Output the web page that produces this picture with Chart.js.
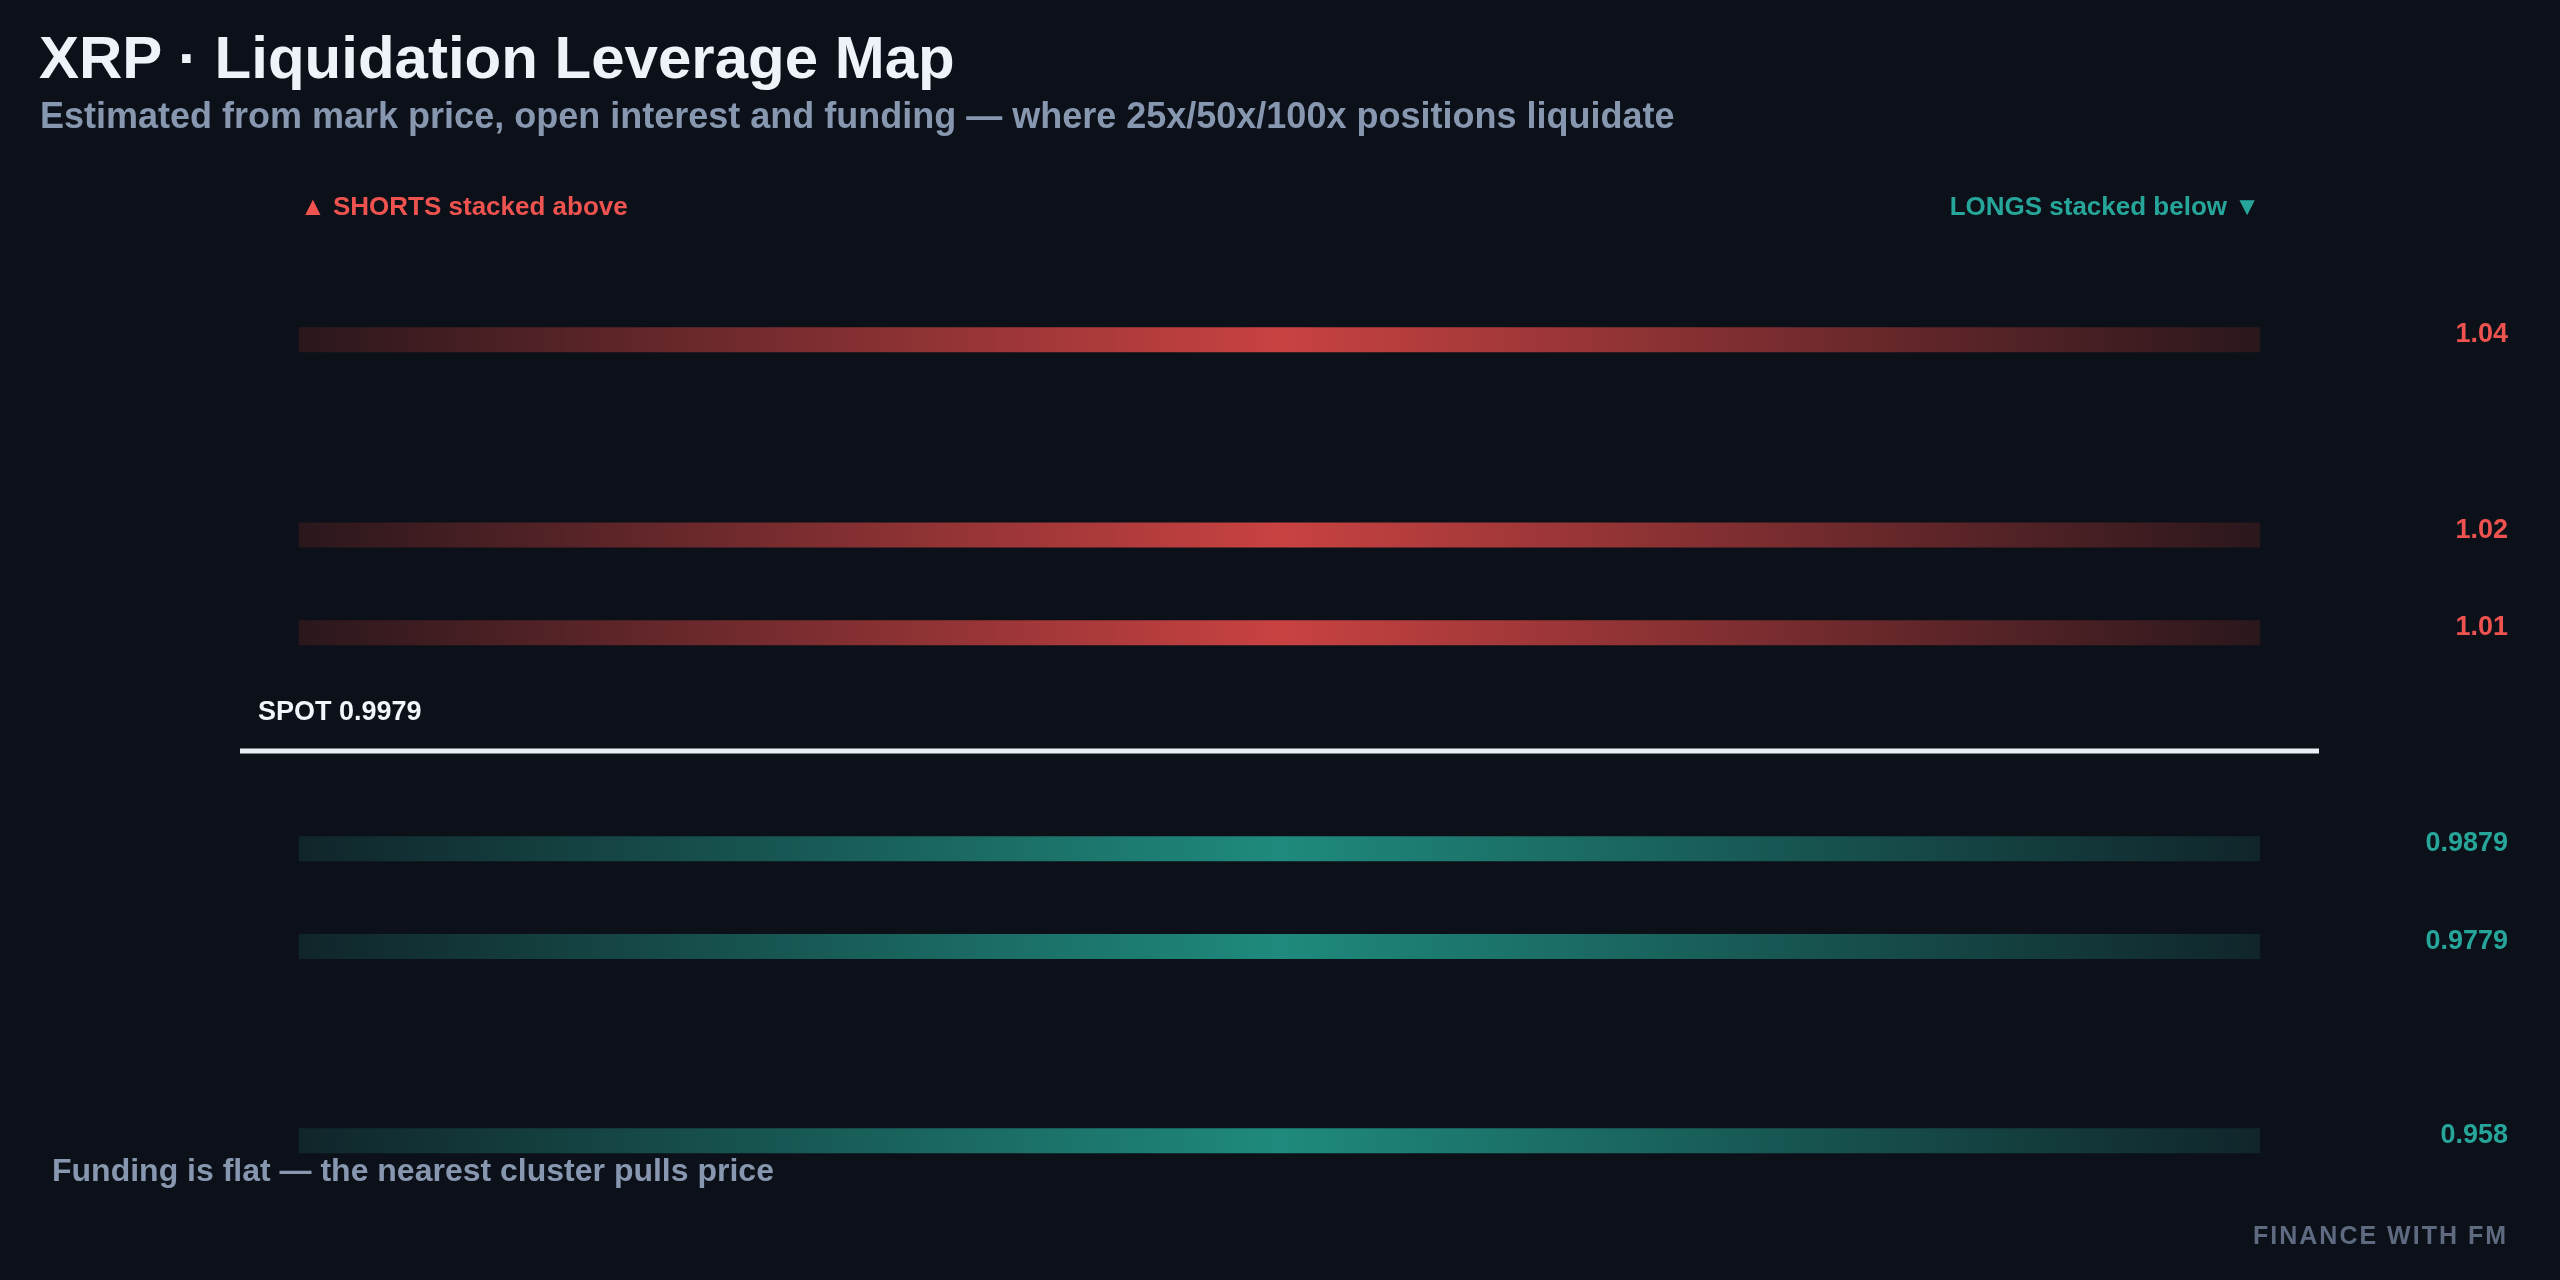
<!DOCTYPE html>
<html><head><meta charset="utf-8">
<script src="https://cdn.jsdelivr.net/npm/chart.js@4"></script>
<style>
html,body{margin:0;padding:0;background:#0c1018;width:2560px;height:1280px;overflow:hidden;font-family:"Liberation Sans",Arial,sans-serif;}
#wrap{position:absolute;left:0;top:0;width:2560px;height:1280px;}
.t{position:absolute;white-space:nowrap;font-weight:bold;}
</style></head><body>
<div id="wrap"><canvas id="c" width="2560" height="1280"></canvas></div>
<div class="t" style="left:39px;top:23px;font-size:60px;color:#eef3fa;">XRP · Liquidation Leverage Map</div>
<div class="t" style="left:40px;top:95px;font-size:36px;color:#8797b0;">Estimated from mark price, open interest and funding — where 25x/50x/100x positions liquidate</div>
<div class="t" style="left:300px;top:191px;font-size:26px;color:#ef5350;">▲ SHORTS stacked above</div>
<div class="t" style="right:300px;top:191px;font-size:26px;color:#26a69a;">LONGS stacked below ▼</div>
<div class="t" style="left:52px;top:1152px;font-size:32px;color:#8797b0;">Funding is flat — the nearest cluster pulls price</div>
<div class="t" style="right:52px;top:1221px;font-size:25px;color:#5d6a80;letter-spacing:2px;">FINANCE WITH FM</div>
<script>
const shortLevels = [1.04, 1.02, 1.01];
const longLevels = [0.9879, 0.9779, 0.958];
const spotPrice = 0.9979;
const shortLabels = ["1.04", "1.02", "1.01"];
const longLabels = ["0.9879", "0.9779", "0.958"];

function grad(ctx, chart, mid, end){
  const a = chart.chartArea; if(!a) return mid;
  const xs = chart.scales.x;
  const x0 = xs.getPixelForValue(0), x1 = xs.getPixelForValue(100);
  const g = ctx.createLinearGradient(x0,0,x1,0);
  g.addColorStop(0,end); g.addColorStop(0.5,mid); g.addColorStop(1,end);
  return g;
}
const datasets = [];
shortLevels.forEach((v,i)=>datasets.push({label:shortLabels[i],data:[{x:0,y:v},{x:100,y:v}],
  borderWidth:25,pointRadius:0,borderCapStyle:'butt',kind:'short',
  borderColor:c=>grad(c.chart.ctx,c.chart,'#c94242','#2a171c')}));
longLevels.forEach((v,i)=>datasets.push({label:longLabels[i],data:[{x:0,y:v},{x:100,y:v}],
  borderWidth:25,pointRadius:0,borderCapStyle:'butt',kind:'long',
  borderColor:c=>grad(c.chart.ctx,c.chart,'#1f8a7d','#10252a')}));
datasets.push({label:'SPOT',data:[{x:-3,y:spotPrice},{x:103,y:spotPrice}],borderWidth:5,pointRadius:0,borderColor:'#e9edf4',kind:'spot'});

const labelPlugin={id:'lbl',afterDatasetsDraw(chart){
  const ctx=chart.ctx, ys=chart.scales.y, xs=chart.scales.x;
  ctx.save();
  ctx.font='bold 27px "Liberation Sans", Arial, sans-serif';
  ctx.textBaseline='middle';
  chart.data.datasets.forEach(d=>{
    const y=ys.getPixelForValue(d.data[0].y);
    if(d.kind==='spot'){
      ctx.fillStyle='#f2f5fa';ctx.textAlign='left';
      ctx.fillText('SPOT '+d.data[0].y.toFixed(4), xs.getPixelForValue(-3)+18, y-38);
    } else {
      ctx.fillStyle=d.kind==='short'?'#ef5350':'#26a69a';ctx.textAlign='right';
      ctx.fillText(d.label, 2508, y-5);
    }
  });
  ctx.restore();
}};

new Chart(document.getElementById('c'),{
  type:'line',
  data:{datasets},
  options:{responsive:false,animation:false,
    layout:{padding:{left:240,right:241,top:242,bottom:61}},
    plugins:{legend:{display:false},tooltip:{enabled:false}},
    scales:{
      x:{type:'linear',min:-3,max:103,display:false},
      y:{type:'linear',min:0.95,max:1.05,display:false}
    }
  },
  plugins:[labelPlugin]
});
</script></body></html>
